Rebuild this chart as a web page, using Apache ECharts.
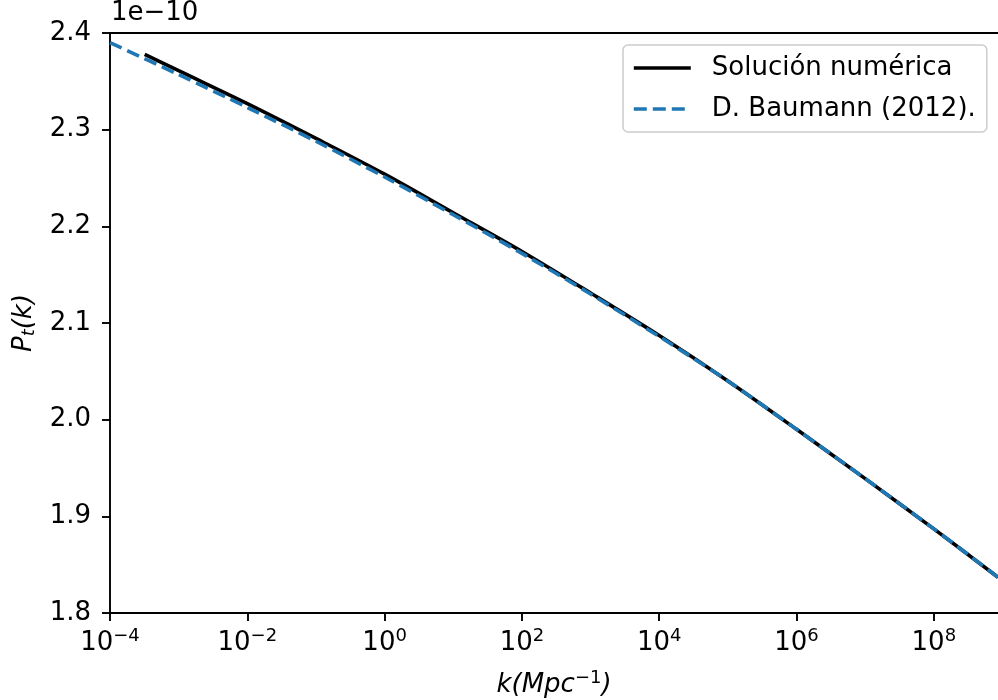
<!DOCTYPE html>
<html>
<head>
<meta charset="utf-8">
<script src="https://cdn.jsdelivr.net/npm/echarts@6/dist/echarts.min.js"></script>
<style>html,body{margin:0;padding:0;background:#fff;}#c{width:998px;height:700px;}</style>
</head>
<body>
<div id="c"></div>
<script>
// Data (P_t values in units of 1e-10)
const kNumerica = [3.2e-4, 1e-3, 1e-2, 1e-1, 1, 10, 1e2, 1e3, 1e4, 1e5, 1e6, 1e7, 1e8, 8.6e8];
const pNumerica = [2.378, 2.361, 2.327, 2.291, 2.254, 2.214, 2.174, 2.131, 2.087, 2.040, 1.990, 1.939, 1.887, 1.837];
const kBaumann = [1e-4, 1e-3, 1e-2, 1e-1, 1, 10, 1e2, 1e3, 1e4, 1e5, 1e6, 1e7, 1e8, 8.6e8];
const pBaumann = [2.390, 2.357, 2.323, 2.288, 2.251, 2.212, 2.172, 2.130, 2.086, 2.040, 1.990, 1.939, 1.887, 1.837];
const xTicks = [1e-4, 1e-2, 1e0, 1e2, 1e4, 1e6, 1e8];
const xTickExp = ['−4', '−2', '0', '2', '4', '6', '8'];
const yTicks = [1.8, 1.9, 2.0, 2.1, 2.2, 2.3, 2.4];
const seriesNames = ['Solución numérica', 'D. Baumann (2012).'];

const FONT = 'DejaVu Sans';
const FS = 26;
const chart = echarts.init(document.getElementById('c'), null, {renderer: 'canvas'});

function zip(a, b) { return a.map((v, i) => [v, b[i]]); }

const option = {
  animation: false,
  backgroundColor: '#ffffff',
  grid: {left: 110, right: 0, top: 33, bottom: 87, containLabel: false, outerBoundsMode: 'none'},
  graphic: [{
    type: 'text', left: 111, top: 0,
    style: {text: '1e−10', fontFamily: FONT, fontSize: FS, fill: '#000'}
  }],
  legend: {
    show: true,
    orient: 'vertical',
    left: 623, top: 45,
    padding: [10, 11, 10, 9],
    itemWidth: 57, itemHeight: 24, itemGap: 15,
    borderColor: '#cccccc', borderWidth: 1.5, borderRadius: 5,
    backgroundColor: 'rgba(255,255,255,0.8)',
    itemStyle: {opacity: 0},
    lineStyle: {width: 3.6},
    textStyle: {fontFamily: FONT, fontSize: FS, color: '#000', padding: [0, 0, 0, 16]},
    data: seriesNames
  },
  xAxis: [{
    type: 'log', logBase: 10, min: 1e-4, max: 8.6e8,
    position: 'bottom',
    axisLine: {show: true, lineStyle: {color: '#000', width: 1.9}},
    axisTick: {show: true, length: 8, lineStyle: {color: '#000', width: 1.9}, customValues: xTicks},
    minorTick: {show: false},
    splitLine: {show: false},
    axisLabel: {
      show: true, margin: 14, customValues: xTicks,
      formatter: function (v) {
        const i = xTicks.findIndex(t => Math.abs(Math.log10(t) - Math.log10(v)) < 1e-6);
        return '{b|10}{s|' + (i >= 0 ? xTickExp[i] : '') + '}';
      },
      rich: {
        b: {fontFamily: FONT, fontSize: FS, color: '#000'},
        s: {fontFamily: FONT, fontSize: 18, color: '#000', padding: [0, 0, 14, 0]}
      }
    },
    name: '{i|k(Mpc}{s|−1}{i|)}',
    nameLocation: 'middle', nameGap: 56,
    nameTextStyle: {
      rich: {
        i: {fontFamily: FONT, fontSize: FS, fontStyle: 'italic', color: '#000'},
        s: {fontFamily: FONT, fontSize: 18, fontStyle: 'normal', color: '#000', padding: [0, 0, 14, 0]}
      }
    }
  }, {
    type: 'value', min: 0, max: 1, position: 'top',
    axisLine: {show: true, lineStyle: {color: '#000', width: 1.9}},
    axisTick: {show: false}, axisLabel: {show: false}, splitLine: {show: false}
  }],
  yAxis: {
    type: 'value', min: 1.8, max: 2.4, interval: 0.1,
    axisLine: {show: true, lineStyle: {color: '#000', width: 1.9}},
    axisTick: {show: true, length: 8, lineStyle: {color: '#000', width: 1.9}},
    splitLine: {show: false},
    axisLabel: {
      margin: 19, fontFamily: FONT, fontSize: FS, color: '#000',
      formatter: v => v.toFixed(1)
    },
    name: '{i|P}{t|t}{i|(k)}',
    nameLocation: 'middle', nameRotate: 90, nameGap: 72,
    nameTextStyle: {
      rich: {
        i: {fontFamily: FONT, fontSize: FS, fontStyle: 'italic', color: '#000'},
        t: {fontFamily: FONT, fontSize: 18, fontStyle: 'italic', color: '#000', padding: [10, 0, 0, 0]}
      }
    }
  },
  series: [{
    name: seriesNames[0], type: 'line', xAxisIndex: 0, yAxisIndex: 0,
    data: zip(kNumerica, pNumerica),
    showSymbol: false, symbol: 'none', smooth: 0.3,
    lineStyle: {color: '#000000', width: 3.6, type: 'solid'},
    itemStyle: {color: '#000000'}, z: 2
  }, {
    name: seriesNames[1], type: 'line', xAxisIndex: 0, yAxisIndex: 0,
    data: zip(kBaumann, pBaumann),
    showSymbol: false, symbol: 'none', smooth: 0.3,
    lineStyle: {color: '#1f77b4', width: 3.6, type: [13, 6]},
    itemStyle: {color: '#1f77b4'}, z: 3
  }]
};
chart.setOption(option);
</script>
</body>
</html>
